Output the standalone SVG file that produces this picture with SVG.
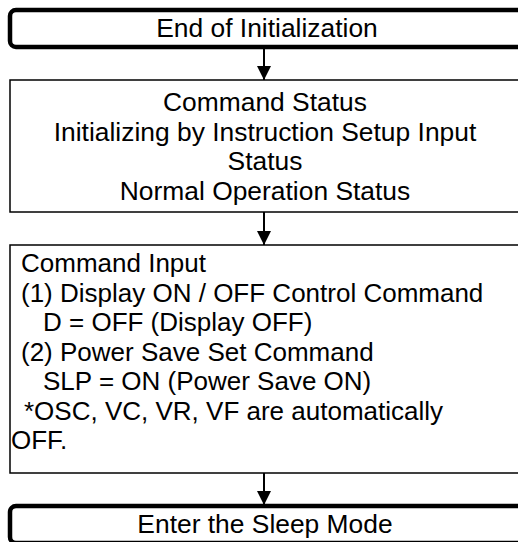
<svg xmlns="http://www.w3.org/2000/svg" width="518" height="542" viewBox="0 0 518 542">
  <style>
    .term { fill: #fff; stroke: #000; stroke-width: 4.5; }
    .proc { fill: #fff; stroke: #000; stroke-width: 1.5; }
    .wire { stroke: #000; stroke-width: 2; fill: none; }
    text { font-family: "Liberation Sans", Arial, sans-serif; font-size: 26.4px; fill: #000; }
    .c { text-anchor: middle; }
    .l { font-size: 26px; }
  </style>
  <defs>
    <marker id="head" markerUnits="userSpaceOnUse" markerWidth="15" markerHeight="14" refX="14" refY="7" orient="auto">
      <path d="M0,0 L14,7 L0,14 Z" fill="#000"/>
    </marker>
  </defs>

  <g id="connectors">
    <line class="wire" x1="264" y1="47" x2="264" y2="80" marker-end="url(#head)"/>
    <line class="wire" x1="264" y1="212" x2="264" y2="245" marker-end="url(#head)"/>
    <line class="wire" x1="264" y1="473" x2="264" y2="505" marker-end="url(#head)"/>
  </g>

  <g id="end-of-init">
    <rect class="term" x="10" y="10" width="520" height="37" rx="6"/>
    <text class="c" x="267" y="37">End of Initialization</text>
  </g>

  <g id="command-status">
    <rect class="proc" x="10" y="80" width="520" height="132"/>
    <text class="c" x="265" y="110.5">Command Status</text>
    <text class="c" x="265" y="140.5">Initializing by Instruction Setup Input</text>
    <text class="c" x="265" y="170">Status</text>
    <text class="c" x="265" y="199.5">Normal Operation Status</text>
  </g>

  <g id="command-input">
    <rect class="proc" x="10" y="245" width="520" height="228"/>
    <text class="l" x="21" y="272">Command Input</text>
    <text class="l" x="21" y="301.5">(1) Display ON / OFF Control Command</text>
    <text class="l" x="43" y="331">D = OFF (Display OFF)</text>
    <text class="l" x="21" y="360.5">(2) Power Save Set Command</text>
    <text class="l" x="43" y="390">SLP = ON (Power Save ON)</text>
    <text class="l" x="24" y="419.5">*OSC, VC, VR, VF are automatically</text>
    <text class="l" x="11" y="449">OFF.</text>
  </g>

  <g id="sleep-mode">
    <rect class="term" x="10" y="506" width="520" height="37" rx="6"/>
    <text class="c" x="265" y="533">Enter the Sleep Mode</text>
  </g>
</svg>
